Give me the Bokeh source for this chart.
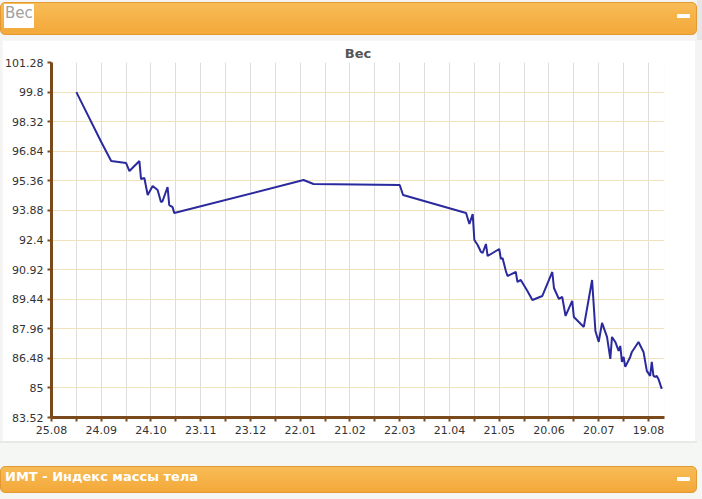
from datetime import datetime, timedelta
from bokeh.plotting import figure
from bokeh.models import (Range1d, FixedTicker, CustomJSTickFormatter, Div, ColumnDataSource)
from bokeh.layouts import column
from bokeh.embed import file_html
from bokeh.resources import INLINE

# ---- data ----
dates = ["2011-09-09", "2011-09-24", "2011-09-30", "2011-10-09", "2011-10-11", "2011-10-17",
         "2011-10-18", "2011-10-20", "2011-10-22", "2011-10-25", "2011-10-28", "2011-10-30",
         "2011-10-31", "2011-11-03", "2011-11-04", "2011-11-06", "2011-11-07", "2012-01-24",
         "2012-01-30", "2012-03-22", "2012-03-24", "2012-05-01", "2012-05-03", "2012-05-05",
         "2012-05-06", "2012-05-08", "2012-05-10", "2012-05-11", "2012-05-13", "2012-05-14",
         "2012-05-21", "2012-05-22", "2012-05-23", "2012-05-25", "2012-05-26", "2012-05-31",
         "2012-06-01", "2012-06-03", "2012-06-07", "2012-06-10", "2012-06-16", "2012-06-22",
         "2012-06-23", "2012-06-26", "2012-06-28", "2012-06-30", "2012-07-04", "2012-07-05",
         "2012-07-11", "2012-07-16", "2012-07-18", "2012-07-20", "2012-07-22", "2012-07-25",
         "2012-07-27", "2012-07-28", "2012-07-30", "2012-08-01", "2012-08-02", "2012-08-03",
         "2012-08-04", "2012-08-05", "2012-08-08", "2012-08-09", "2012-08-13", "2012-08-16",
         "2012-08-18", "2012-08-20", "2012-08-21", "2012-08-22", "2012-08-23", "2012-08-24",
         "2012-08-25", "2012-08-27"]
weights = [99.8, 97.3, 96.35, 96.25, 95.85, 96.35,
           95.45, 95.5, 94.65, 95.1, 94.9, 94.3,
           94.35, 95.05, 94.15, 94.05, 93.75, 95.4,
           95.2, 95.15, 94.65, 93.75, 93.2, 93.7,
           92.4, 92.15, 91.8, 91.75, 92.2, 91.6,
           91.95, 91.45, 91.5, 90.85, 90.6, 90.8,
           90.3, 90.4, 89.85, 89.4, 89.6, 90.8,
           90.0, 89.45, 89.55, 88.6, 89.35, 88.55,
           88.05, 90.4, 87.85, 87.3, 88.25, 87.55,
           86.45, 87.55, 87.3, 86.85, 87.1, 86.3,
           86.55, 86.05, 86.55, 86.8, 87.3, 86.8,
           85.85, 85.6, 86.3, 85.6, 85.55, 85.6,
           85.45, 84.95]

x_tick_dates = ["2011-08-25", "2011-09-24", "2011-10-24", "2011-11-23", "2011-12-23",
                "2012-01-22", "2012-02-21", "2012-03-22", "2012-04-21", "2012-05-21",
                "2012-06-20", "2012-07-20", "2012-08-19"]
y_ticks = [83.52, 85, 86.48, 87.96, 89.44, 90.92, 92.4, 93.88, 95.36, 96.84, 98.32, 99.8, 101.28]

title_text = "Вес"
header_top = "Вес"
header_bottom = "ИМТ - Индекс массы тела"

# ---- helpers ----
def to_dt(s):
    return datetime.strptime(s, "%Y-%m-%d")

def ms(d):
    return (d - datetime(1970, 1, 1)).total_seconds() * 1000.0

xs = [to_dt(d) for d in dates]
src = ColumnDataSource(dict(x=xs, y=weights))

major = [ms(to_dt(d)) for d in x_tick_dates]
minor = [(a + b) / 2 for a, b in zip(major[:-1], major[1:])]

BROWN = "#7b4a1c"
FONT = "DejaVu Sans"

p = figure(width=693, height=401, x_axis_type="datetime",
           output_backend="svg", toolbar_location=None,
           x_range=Range1d(to_dt("2011-08-25"), to_dt("2012-08-28") + timedelta(hours=16)),
           y_range=Range1d(y_ticks[0], y_ticks[-1]),
           min_border_left=47, min_border_right=31, min_border_top=22, min_border_bottom=24,
           margin=(0, 7, 0, 2))
p.title.text = title_text
p.title.align = "center"
p.title.text_font = FONT
p.title.text_font_size = "13px"
p.title.text_font_style = "bold"
p.title.text_color = "#555555"
p.title.offset = -8
p.title.standoff = 3
p.outline_line_color = None
p.background_fill_color = "white"
p.border_fill_color = "white"

p.xaxis.ticker = FixedTicker(ticks=major, minor_ticks=minor)
p.xaxis.formatter = CustomJSTickFormatter(code="""
const d = new Date(tick);
const dd = String(d.getUTCDate()).padStart(2, '0');
const mm = String(d.getUTCMonth() + 1).padStart(2, '0');
return dd + '.' + mm;
""")
p.yaxis.ticker = FixedTicker(ticks=y_ticks)
p.yaxis.formatter = CustomJSTickFormatter(code="return String(Number(tick.toFixed(2)));")

for ax in (p.xaxis[0], p.yaxis[0]):
    ax.axis_line_color = BROWN
    ax.axis_line_width = 3
    ax.major_tick_line_color = BROWN
    ax.major_tick_line_width = 2
    ax.major_tick_out = 4
    ax.major_tick_in = 0
    ax.major_label_text_font = FONT
    ax.major_label_text_font_size = "11px"
    ax.major_label_text_color = "#333333"
    ax.major_label_standoff = 4
p.xaxis.minor_tick_line_color = BROWN
p.xaxis.minor_tick_line_width = 2
p.xaxis.minor_tick_out = 4
p.xaxis.minor_tick_in = 0
p.yaxis.minor_tick_line_color = None

p.xgrid.grid_line_color = "#dddddd"
p.xgrid.minor_grid_line_color = "#dddddd"
p.ygrid.grid_line_color = "#f0e3bb"

p.line("x", "y", source=src, line_color="#2a2a9e", line_width=2)

bar_css = ("position:absolute;left:0px;width:697px;border:1px solid #e39a32;border-radius:5px;"
           "background:linear-gradient(#f8bc56,#f3a83a);box-sizing:border-box;")
minus_css = ("position:absolute;right:6px;width:13px;height:4px;background:#ffffff;"
             "border-radius:1px;")

top_div = Div(width=702, height=40, margin=0, text=(
    f'<div style="position:relative;width:702px;height:40px;background:#f3f4f3;">'
    f'<div style="{bar_css}top:2px;height:33px;">'
    f'<span style="position:absolute;left:3px;top:1px;height:24px;line-height:24px;'
    f'padding:0 1px;background:#ffffff;color:#a0a0a0;font:15px \'DejaVu Sans\';">{header_top}</span>'
    f'<div style="{minus_css}top:11px;"></div></div>'
    f'<div style="position:absolute;left:697px;top:0;width:5px;height:40px;background:#e6e6e6;"></div>'
    f'</div>'))

bottom_div = Div(width=702, height=58, margin=0, text=(
    f'<div style="position:relative;width:702px;height:58px;background:#f5f7f5;">'
    f'<div style="position:absolute;left:0;top:0;width:697px;height:2px;background:#e8e8e8;"></div>'
    f'<div style="{bar_css}top:25px;height:27px;">'
    f'<span style="position:absolute;left:4px;top:2px;line-height:21px;color:#ffffff;'
    f'font:bold 13px \'DejaVu Sans\';">{header_bottom}</span>'
    f'<div style="{minus_css}top:10px;"></div></div>'
    f'</div>'))

layout = column(top_div, p, bottom_div, margin=0, spacing=0,
                styles={"background-color": "#f3f4f3"})

open("out.html", "w").write(file_html(layout, INLINE))
